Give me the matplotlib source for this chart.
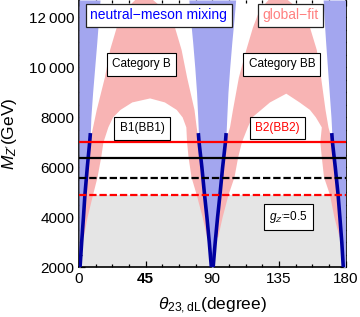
import matplotlib
matplotlib.use("Agg")
import matplotlib.pyplot as plt
from matplotlib.ticker import FixedLocator, MultipleLocator

plt.rcParams['font.family'] = ['Liberation Sans', 'DejaVu Sans']
plt.rcParams['mathtext.fontset'] = 'custom'
plt.rcParams['mathtext.rm'] = 'Liberation Sans'
plt.rcParams['mathtext.it'] = 'Liberation Sans:italic'

# dark blue curves (theta offsets)
m_arm = [2000, 3000, 4000, 4900, 6000, 7000, 7300]
arm_0 = [0.7, 1.8, 3.0, 4.0, 5.6, 7.2, 7.6]
arm_90 = [0.6, 2.0, 3.6, 5.2, 7.0, 8.9, 9.3]
arm_180 = [1.5, 2.5, 3.8, 5.0, 6.9, 8.8, 9.2]

# neutral-meson mixing region edges above the curves
m_blue = [7300, 8000, 9000, 10000, 11000, 12000, 12700]
blue_0 = [7.6, 8.0, 9.2, 10.6, 12.0, 13.3, 14.2]
blue_90 = [9.3, 9.8, 10.6, 11.8, 13.2, 14.8, 15.8]
blue_180 = [9.2, 9.8, 11.0, 12.2, 13.4, 14.5, 15.1]

# global-fit arches
m_outer = [3200, 4000, 4900, 6000, 7000, 7600, 8300, 9600, 10700, 11600, 12300, 12700]
b_outer_l = [2.2, 3.0, 4.0, 5.6, 7.4, 9.5, 12.0, 17.5, 21.0, 25.5, 31.0, 38.0]
b_outer_r = [87.6, 86.4, 84.8, 83.0, 81.0, 79.5, 78.0, 73.0, 69.3, 64.8, 58.0, 50.0]
b_apex = (44, 12950)
bb_outer_l = [92.4, 93.6, 95.2, 97.0, 99.0, 102.0, 104.0, 108.0, 113.0, 117.5, 122.0, 128.0]
bb_outer_r = [177.5, 176.2, 175.0, 173.0, 171.2, 168.5, 166.5, 163.5, 160.6, 156.0, 149.0, 141.0]
bb_apex = (135, 12950)

m_hole = [3200, 4000, 4900, 5600, 6400, 7000, 7600, 8000, 8300, 8600]
b_hole_l = [3.2, 5.8, 9.5, 12.5, 15.0, 16.5, 19.8, 23.0, 28.0, 36.0]
b_hole_r = [86.5, 83.5, 79.5, 76.0, 74.0, 73.0, 72.5, 70.0, 66.0, 58.0]
b_hole_top = (48, 8760)
bb_hole_l = [94.0, 97.0, 101.0, 105.0, 107.5, 110.0, 114.0, 117.0, 123.0, 129.0]
bb_hole_r = [176.0, 172.5, 169.5, 165.5, 164.0, 163.0, 164.0, 160.0, 156.0, 149.0]
bb_hole_top = (140, 8950)

# horizontal bounds
b2_solid = 7000
b1_solid = 6370
b1_dashed = 5570
b2_dashed = 4900

x_ticks = [0, 45, 90, 135, 180]
y_ticks = [2000, 4000, 6000, 8000, 10000, 12000]
y_labels = ['2000', '4000', '6000', '8000', '10\u2009000', '12\u2009000']


def arch(m_out, out_l, out_r, apex, m_in, in_l, in_r, top):
    xs = out_l + [apex[0]] + out_r[::-1] + in_r + [top[0]] + in_l[::-1]
    ys = m_out + [apex[1]] + m_out[::-1] + m_in + [top[1]] + m_in[::-1]
    return xs, ys


fig = plt.figure(figsize=(3.6, 3.17), dpi=100)
ax = fig.add_axes([79 / 360, 49.7 / 317, 266.5 / 360, 267.3 / 317])

pink = '#f8b4b4'
light_blue = '#a3a6ef'

ax.axhspan(2000, b2_dashed, color='#e5e5e5', lw=0, zorder=1)

for args in [(m_outer, b_outer_l, b_outer_r, b_apex, m_hole, b_hole_l, b_hole_r, b_hole_top),
             (m_outer, bb_outer_l, bb_outer_r, bb_apex, m_hole, bb_hole_l, bb_hole_r, bb_hole_top)]:
    xs, ys = arch(*args)
    ax.fill(xs, ys, color=pink, lw=0, zorder=2)

m_all = m_arm + m_blue[1:]
e0 = arm_0 + blue_0[1:]
e90 = arm_90 + blue_90[1:]
e180 = arm_180 + blue_180[1:]
ax.fill_betweenx(m_all, 0, e0, color=light_blue, lw=0, zorder=3)
ax.fill_betweenx(m_all, [90 - v for v in e90], [90 + v for v in e90], color=light_blue, lw=0, zorder=3)
ax.fill_betweenx(m_all, [180 - v for v in e180], 180, color=light_blue, lw=0, zorder=3)

navy = '#0000a0'
ax.plot(arm_0, m_arm, color=navy, lw=2.6, zorder=4)
ax.plot([90 - v for v in arm_90], m_arm, color=navy, lw=2.6, zorder=4)
ax.plot([90 + v for v in arm_90], m_arm, color=navy, lw=2.6, zorder=4)
ax.plot([180 - v for v in arm_180], m_arm, color=navy, lw=2.6, zorder=4)

ax.axhline(b2_solid, color='red', lw=1.6, zorder=5)
ax.axhline(b1_solid, color='black', lw=1.6, zorder=5)
ax.axhline(b1_dashed, color='black', lw=1.6, ls=(0, (3.3, 1.3)), zorder=5)
ax.axhline(b2_dashed, color='red', lw=1.6, ls=(0, (3.3, 1.3)), zorder=5)

box = dict(boxstyle='square,pad=0.32', fc='white', ec='#222222', lw=0.9)
box2 = dict(boxstyle='square,pad=0.45', fc='white', ec='black', lw=0.8)
ax.text(53.9, 12084, 'neutral\u2212meson mixing', color='blue', fontsize=10,
        ha='center', va='center', bbox=box, zorder=6)
ax.text(142.8, 12084, 'global\u2212fit', color='#ff8080', fontsize=10,
        ha='center', va='center', bbox=box, zorder=6)
ax.text(42.3, 10124, 'Category B', fontsize=8.5, ha='center', va='center', bbox=box2, zorder=6)
ax.text(137, 10124, 'Category BB', fontsize=8.5, ha='center', va='center', bbox=box2, zorder=6)
ax.text(42.6, 7564, 'B1(BB1)', fontsize=8.5, ha='center', va='center', bbox=box2, zorder=6)
ax.text(134.2, 7572, 'B2(BB2)', fontsize=8.5, color='red', ha='center', va='center', bbox=box2, zorder=6)
ax.text(141.3, 4012, r"$g_{Z'}$=0.5", fontsize=8.5, ha='center', va='center', bbox=box2, zorder=6)

ax.set_xlim(0, 180)
ax.set_ylim(2000, 12700)
ax.xaxis.set_major_locator(FixedLocator(x_ticks))
ax.set_xticklabels([str(t) for t in x_ticks])
ax.xaxis.set_minor_locator(MultipleLocator(11.25))
ax.yaxis.set_major_locator(FixedLocator(y_ticks))
ax.set_yticklabels(y_labels)
ax.yaxis.set_minor_locator(MultipleLocator(500))
ax.tick_params(which='both', direction='in', top=True, right=True, labelsize=11, pad=3.5, width=0.9)
ax.tick_params(which='major', length=4.5)
ax.tick_params(which='minor', length=2.5)
ax.get_xticklabels()[1].set_fontweight('bold')
for side in ['left', 'right', 'bottom']:
    ax.spines[side].set_linewidth(1.2)
ax.spines['top'].set_visible(False)

ax.set_xlabel(r'$\theta_{23,\mathrm{dL}}$(degree)', fontsize=12.5, labelpad=7)
ax.set_ylabel(r"$M_{Z'}$(GeV)", fontsize=12.5)
ax.yaxis.set_label_coords(-0.225, 0.5)

fig.savefig('out.png', dpi=100)
